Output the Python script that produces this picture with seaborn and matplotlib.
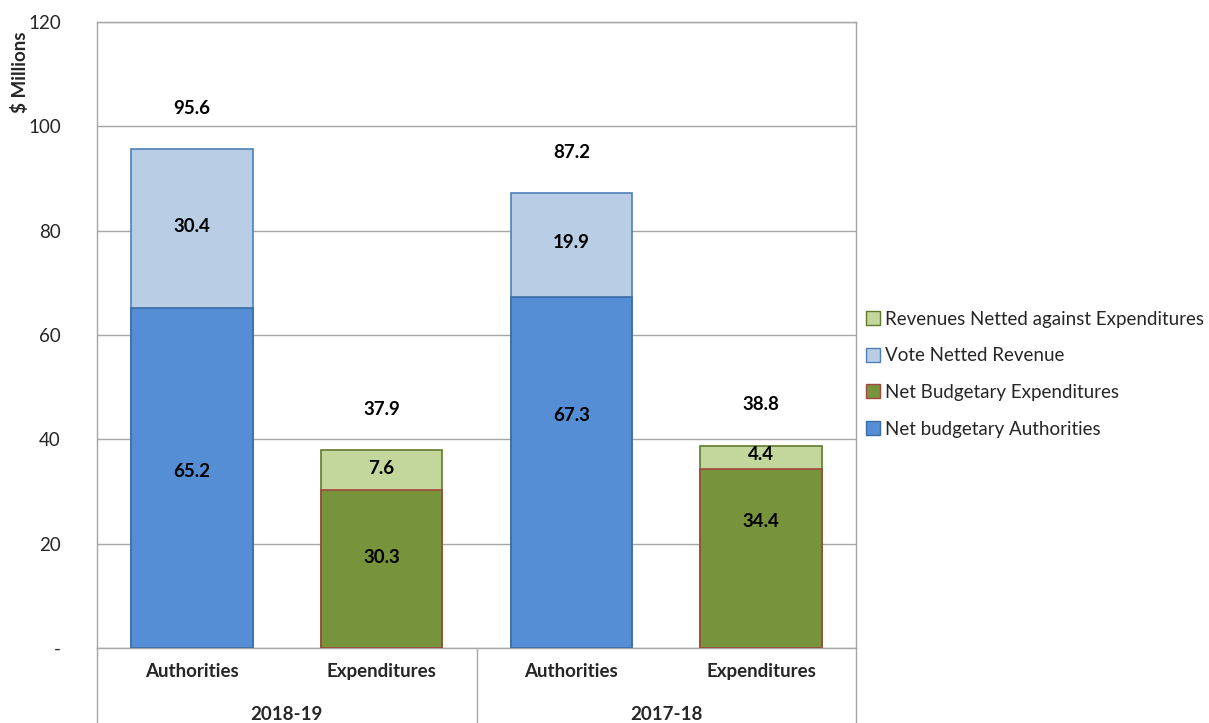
import matplotlib
matplotlib.use("Agg")
import matplotlib.pyplot as plt
import pandas as pd
import seaborn as sns
from matplotlib.patches import Patch

# Data
years = ["2018-19", "2017-18"]
bar_kinds = ["Authorities", "Expenditures", "Authorities", "Expenditures"]
bar_ids = ["A 2018-19", "E 2018-19", "A 2017-18", "E 2017-18"]
base_values = [65.2, 30.3, 67.3, 34.4]      # Net budgetary Authorities / Net Budgetary Expenditures
top_values = [30.4, 7.6, 19.9, 4.4]         # Vote Netted Revenue / Revenues Netted against Expenditures
total_values = [95.6, 37.9, 87.2, 38.8]
base_label_y = [33.9, 17.4, 44.5, 24.3]     # where the chart put the inner labels
legend_labels = ["Revenues Netted against Expenditures", "Vote Netted Revenue",
                 "Net Budgetary Expenditures", "Net budgetary Authorities"]

df = pd.DataFrame({"bar": bar_ids, "kind": bar_kinds, "base": base_values,
                   "top": top_values, "total": total_values})

# Colours
blue, blue_edge = "#558ED5", "#3C6CA8"
lblue, lblue_edge = "#B9CDE5", "#4F7FB8"
green, green_edge = "#77933C", "#A3463E"
lgreen, lgreen_edge = "#C3D69B", "#5F7A2C"
grid_col = "#A6A6A6"
FS = 13.5

sns.set_style("white")
plt.rcParams["font.family"] = ["Lato", "DejaVu Sans"]

fig = plt.figure(figsize=(12.09, 7.23), dpi=100)
ax = fig.add_axes([97 / 1209, 1 - 648 / 723, (856 - 97) / 1209, (648 - 22) / 723])

top_pal = {b: (lblue if k == "Authorities" else lgreen) for b, k in zip(bar_ids, bar_kinds)}
base_pal = {b: (blue if k == "Authorities" else green) for b, k in zip(bar_ids, bar_kinds)}

# total bars (light) first, then the base segment on top of them
sns.barplot(data=df, x="bar", y="total", hue="bar", palette=top_pal, order=bar_ids,
            width=0.64, legend=False, ax=ax, linewidth=1.2, saturation=1, zorder=3)
n_top = len(ax.patches)
sns.barplot(data=df, x="bar", y="base", hue="bar", palette=base_pal, order=bar_ids,
            width=0.64, legend=False, ax=ax, linewidth=1.2, saturation=1, zorder=4)

for i, p in enumerate(ax.patches):
    if p.get_height() == 0:
        continue
    light = i < n_top
    idx = int(round(p.get_x() + p.get_width() / 2))
    auth = bar_kinds[idx] == "Authorities"
    if light:
        p.set_edgecolor(lblue_edge if auth else lgreen_edge)
    else:
        p.set_edgecolor(blue_edge if auth else green_edge)

# labels
bold = dict(fontsize=FS, fontweight="bold", ha="center", va="center", color="black", zorder=6)
for i in range(len(bar_ids)):
    ax.text(i, total_values[i] + 7.8, f"{total_values[i]:.1f}", **bold)
    ax.text(i, base_values[i] + top_values[i] / 2 + 0.4, f"{top_values[i]:.1f}", **bold)
    ax.text(i, base_label_y[i], f"{base_values[i]:.1f}", **bold)

# axes
ax.set_xlim(-0.5, 3.5)
ax.set_ylim(0, 120)
ax.set_yticks(range(0, 121, 20))
ax.set_yticklabels(["-"] + [str(v) for v in range(20, 121, 20)], fontsize=FS)
ax.yaxis.grid(True, color=grid_col, linewidth=1)
ax.set_axisbelow(True)
ax.tick_params(axis="y", length=0, pad=26)
ax.set_xticks(range(len(bar_ids)))
ax.set_xticklabels(bar_kinds, fontsize=FS, fontweight="bold")
ax.tick_params(axis="x", length=0, pad=11)
ax.set_xlabel("")
ax.set_ylabel("")
for s in ["left", "right", "bottom", "top"]:
    ax.spines[s].set_visible(True)
    ax.spines[s].set_color(grid_col)
    ax.spines[s].set_linewidth(1)

# group separators and year labels below the axis
trans = ax.get_xaxis_transform()
for xv in [-0.5, 1.5, 3.5]:
    ax.plot([xv, xv], [0, -0.125], color=grid_col, lw=1, transform=trans, clip_on=False)
for g, yr in enumerate(years):
    ax.text(g * 2 + 0.5, -0.106, yr, transform=trans, ha="center", va="center",
            fontsize=FS, fontweight="bold")

fig.text(20 / 1209, 1 - 72 / 723, "$ Millions", rotation=90, ha="center", va="center",
         fontsize=FS, fontweight="bold")

handles = [Patch(facecolor=lgreen, edgecolor=lgreen_edge),
           Patch(facecolor=lblue, edgecolor=lblue_edge),
           Patch(facecolor=green, edgecolor=green_edge),
           Patch(facecolor=blue, edgecolor=blue_edge)]
fig.legend(handles, legend_labels, loc="upper left", bbox_to_anchor=(858 / 1209, 1 - 303 / 723),
           frameon=False, fontsize=FS, handlelength=0.75, handleheight=0.75,
           handletextpad=0.3, labelspacing=1.05, borderaxespad=0)

fig.savefig("out.png", dpi=100)
plt.close("all")
